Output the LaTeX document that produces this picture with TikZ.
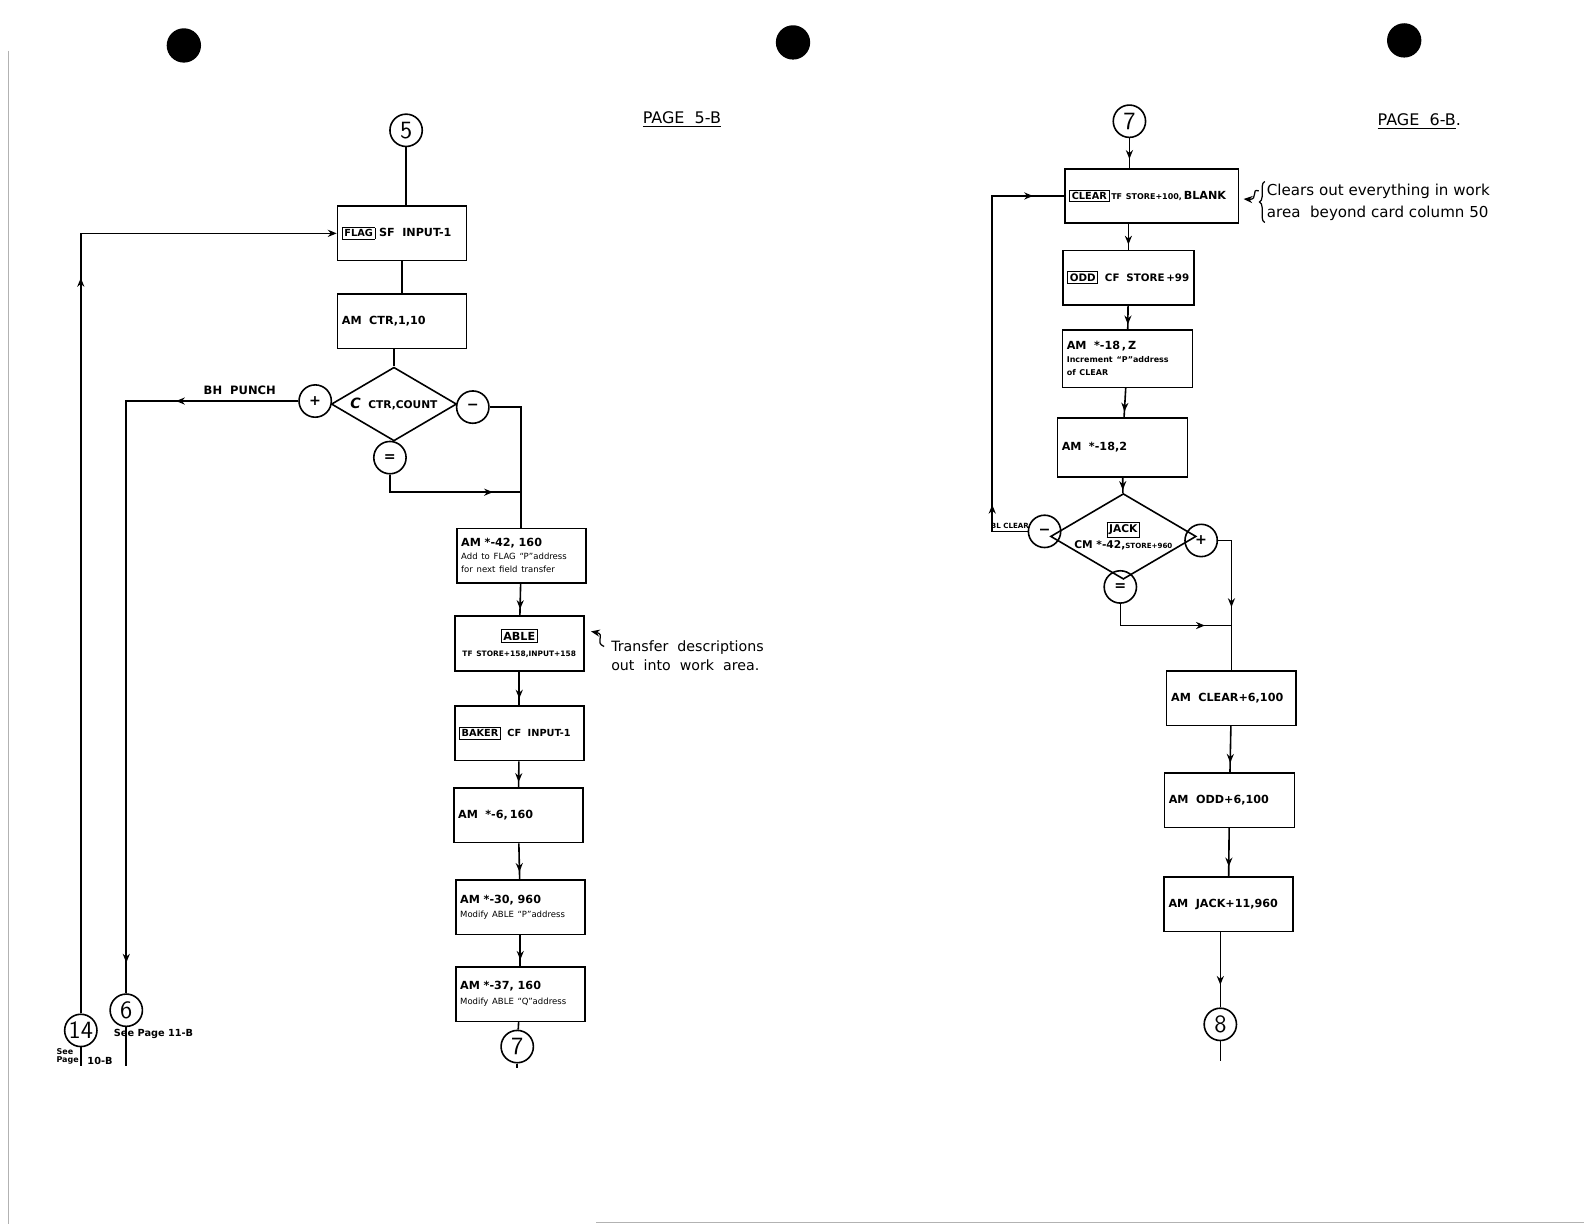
\documentclass[tikz,border=0pt]{standalone}
\usepackage{fontspec}
\newfontfamily\hand{DejaVu Sans}
\usepackage{tikz}
\usetikzlibrary{calc, shapes.geometric, arrows.meta, decorations.markings, decorations.pathreplacing}
\newcommand{\boxlab}[1]{{\setlength{\fboxsep}{1pt}\fbox{#1}}}
\newcommand{\fsz}[1]{\fontsize{#1}{#1}\selectfont}

\begin{document}
\begin{tikzpicture}[
    x=0.02cm, y=-0.02cm,
    block/.style={rectangle, draw, line width=0.9pt, minimum height=1.08cm,
                  text width=#1, align=left, inner sep=2.5pt,
                  font=\hand\bfseries\fsz{6.3}},
    block/.default=2.38cm,
    conn/.style={circle, draw, line width=0.9pt, minimum size=0.64cm,
                 inner sep=0pt, font=\sffamily\fsz{14}},
    sign/.style={circle, draw, line width=0.9pt, minimum size=0.64cm,
                 inner sep=0pt, font=\hand\bfseries\fsz{8}},
    test/.style={diamond, draw, line width=0.9pt, minimum width=2.48cm,
                 minimum height=1.46cm, aspect=1.7, inner sep=0pt,
                 align=center, font=\hand\bfseries\fsz{6}},
    flow/.style={line width=0.9pt},
    mid/.style={postaction={decorate, decoration={markings,
                mark=at position #1 with {\arrow{Stealth[length=5pt, width=4pt]}}}}},
    tip/.style={-{Stealth[length=5pt, width=4pt]}},
    note/.style={font=\hand\fsz{8}, align=left, inner sep=1pt},
  ]
    \useasboundingbox (0,0) rectangle (1568,1212);

    % punch holes and scan edges
    \fill (182,45) circle[radius=0.34cm];
    \fill (785,42) circle[radius=0.34cm];
    \fill (1390,40) circle[radius=0.34cm];
    \draw[gray!60, line width=0.6pt] (8,50) -- (8,1212);
    \draw[gray!60, line width=0.6pt] (590,1210) -- (1568,1210);

    % page 5-B
    \node[conn] (c5) at (402,129) {5};
    \node[font=\hand\fsz{9}] (pg5) at (675,118) {\underline{PAGE~~5-B}};

    \node[block] (flag) at (398,231) {\boxlab{\fsz{5.5}FLAG}~SF~~INPUT-1};
    \node[block] (ctr) at (398,318) {AM~~CTR,1,10};
    \node[test] (cmp) at (390,400) {{\fsz{8}\itshape C}~~CTR,COUNT};
    \node[sign] (cplus) at (312,397) {+};
    \node[sign] (cminus) at (468,403) {−};
    \node[sign] (ceq) at (386,453) {=};

    \node[block] (a42) at (516,550) {AM~*-42,~160\\[1pt]
      {\fsz{4.8}\mdseries Add~to~FLAG~\textquotedblleft P\textquotedblright address}\\[1pt]
      {\fsz{4.8}\mdseries for~next~field~transfer}};
    \node[block, align=center] (able) at (514,637) {\boxlab{ABLE}\\[3pt]
      {\fsz{4.2}TF~STORE+158,INPUT+158}};
    \node[block, font=\hand\bfseries\fsz{5.5}] (baker) at (514,726) {\boxlab{BAKER}~~CF~~INPUT-1};
    \node[block] (a6) at (513,807) {AM~~*-6,\,160};
    \node[block] (a30) at (515,898) {AM~*-30,~960\\[2pt]
      {\fsz{4.8}\mdseries Modify~ABLE~\textquotedblleft P\textquotedblright address}};
    \node[block] (a37) at (515,984) {AM~*-37,~160\\[2pt]
      {\fsz{4.8}\mdseries Modify~ABLE~\textquotedblleft Q\textquotedblright address}};
    \node[conn] (c7a) at (512,1036) {7};
    \coordinate (e7) at (512,1057);

    \node[conn] (c6) at (125,1000) {6};
    \node[font=\hand\bfseries\fsz{5.5}] (n6) at (152,1023) {See Page 11-B};
    \coordinate (e6) at (125,1055);
    \node[conn] (c14) at (80,1020) {14};
    \node[font=\hand\bfseries\fsz{4.5}, align=left, inner sep=0pt] (n14a) at (67,1046) {See\\Page};
    \node[font=\hand\bfseries\fsz{5.5}, inner sep=0pt] (n14b) at (99,1050) {10-B};
    \coordinate (e14) at (80,1055);

    \node[note, anchor=west] (tnote) at (603,649) {Transfer~~descriptions\\[3pt]out~~into~~work~~area.};
    \coordinate (sq) at (598,640);

    \draw[flow] (c5) -- (c5 |- flag.north);
    \draw[flow] (flag) -- (ctr);
    \draw[flow] (cmp.north |- ctr.south) -- (cmp.north);
    \draw[flow, mid=0.16, mid=0.96] (cplus) -|
      node[pos=0.17, above, font=\hand\bfseries\fsz{6.5}] (bhp) {BH\ \ PUNCH} (c6);
    \draw[flow] (c6) -- (e6);
    \draw[flow, mid=0.71, tip] (c14) |- (flag);
    \draw[flow] (c14) -- (e14);
    \draw[flow] (cminus) -| (a42);
    \coordinate (jn) at ($(a42.north)+(0,-35)$);
    \draw[flow, mid=0.81] (ceq) |- (jn);
    \draw[flow, mid=0.8] (a42) -- (able);
    \draw[flow, mid=0.8] (able) -- (baker);
    \draw[flow, mid=0.8] (baker) -- (a6);
    \draw[flow, mid=0.8] (a6) -- (a30);
    \draw[flow, mid=0.8] (a30) -- (a37);
    \draw[flow] (a37) -- (c7a);
    \draw[flow] (c7a) -- (e7);
    \draw[line width=0.7pt, tip] (sq) .. controls (588,636) and (600,628) .. (585,625);

    % page 6-B
    \node[conn] (c7b) at (1118,120) {7};
    \node[font=\hand\fsz{9}] (pg6) at (1405,120) {\underline{PAGE~~6-B}.};

    \node[block=3.26cm] (clr) at (1140,194) {\boxlab{\fsz{5.5}CLEAR}\,{\fsz{4.5}TF~STORE+100,}\,BLANK};
    \node[block=2.42cm, font=\hand\bfseries\fsz{5.8}] (odd) at (1117,275) {\boxlab{ODD}~~CF~~STORE\,+99};
    \node[block=2.40cm, minimum height=1.14cm] (z) at (1116,355) {AM~~*-18\,,\,Z\\[1pt]
      {\fsz{4.5}Increment~\textquotedblleft P\textquotedblright address}\\[1pt]
      {\fsz{4.5}of~CLEAR}};
    \node[block=2.40cm, minimum height=1.16cm] (two) at (1111,443) {AM~~*-18,2};
    \node[test, minimum width=2.44cm, minimum height=1.36cm] (jack) at (1112,531)
      {\boxlab{JACK}\\[1pt]CM~*-42,{\fsz{4}STORE+960}};
    \node[sign] (jm) at (1034,526) {−};
    \node[sign] (jp) at (1189,535) {+};
    \node[sign] (je) at (1109,581) {=};

    \node[block=2.39cm] (acl) at (1219,691) {AM~~CLEAR+6,100};
    \node[block=2.40cm] (aodd) at (1217,792) {AM~~ODD+6,100};
    \node[block=2.37cm] (ajk) at (1216,895) {AM~~JACK+11,960};
    \node[conn] (c8) at (1208,1014) {8};
    \coordinate (e8) at (1208,1050);

    \node[note, anchor=west, font=\hand\fsz{8.5}] (cnote) at (1252,200)
      {Clears~out~everything~in~work\\[4pt]area~~beyond~card~column~50};
    \draw[line width=0.7pt, decorate, decoration={brace, amplitude=3pt}]
      (cnote.south west) -- (cnote.north west);
    \coordinate (cq) at (1246,189);
    \draw[line width=0.7pt, tip] (cq) .. controls (1238,186) and (1246,198) .. (1231,197);

    \draw[flow, mid=0.7] (c7b) -- (c7b |- clr.north);
    \draw[flow, mid=0.8] (clr.south -| odd.north) -- (odd);
    \draw[flow, mid=0.8] (odd) -- (z);
    \draw[flow, mid=0.8] (z) -- (two);
    \draw[flow, mid=0.8] (two) -- (jack);
    \coordinate (bl) at ($(jm.west)+(-35,0)$);
    \draw[flow, mid=0.14, mid=0.93] (jm.west) --
      node[above, font=\hand\bfseries\fsz{4}, inner sep=1pt] (blc) {BL CLEAR} (bl) |- (clr.west);
    \draw[flow, mid=0.56] (jp) -| (acl);
    \coordinate (jn2) at ($(acl.north)+(0,-44)$);
    \draw[flow, mid=0.8] (je) |- (jn2);
    \draw[flow, mid=0.8] (acl) -- (aodd);
    \draw[flow, mid=0.8] (aodd) -- (ajk);
    \draw[flow, mid=0.7] (ajk.south -| c8) -- (c8);
    \draw[flow] (c8) -- (e8);
  \end{tikzpicture}
\end{document}
